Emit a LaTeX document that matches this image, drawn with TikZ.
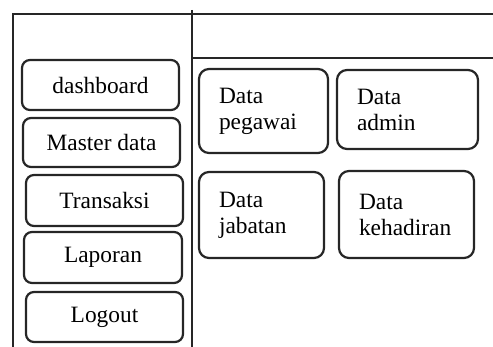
\documentclass[tikz,border=0pt]{standalone}
\usepackage{fontspec}
\setmainfont{Liberation Serif}
\begin{document}
\begin{tikzpicture}[x=0.5pt,y=-0.5pt,
  frame/.style={line width=1pt,draw=black!85},
  menubox/.style={draw=black!85,line width=1.1pt,rounded corners=4pt,
    inner sep=0pt,font=\fontsize{11.7}{13}\selectfont},
  databox/.style={draw=black!85,line width=1.1pt,rounded corners=5pt,
    inner xsep=10pt,inner ysep=0pt,align=left,
    font=\fontsize{11.7}{13}\selectfont}]
\useasboundingbox (0,0) rectangle (493,347);
% window frame
\coordinate (tl) at (13,14);
\coordinate (tr) at (493,14);
\coordinate (bl) at (13,347);
\coordinate (dtop) at (192,10);
\coordinate (dbot) at (192,347);
\coordinate (hl) at (192,58);
\coordinate (hr) at (493,58);
\draw[frame] (bl) -- (tl) -- (tr);
\draw[frame] (dtop) -- (dbot);
\draw[frame] (hl) -- (hr);
% side menu
\node[menubox,minimum width=78.5pt,minimum height=25pt] (dash) at (100.5,85) {dashboard};
\node[menubox,minimum width=78.5pt,minimum height=24.5pt] (master) at (101.5,142.5) {Master data};
\node[menubox,minimum width=78.5pt,minimum height=25.5pt] (trans) at (104.5,200.5) {Transaksi};
\node[menubox,minimum width=79pt,minimum height=25.5pt] (lap) at (103,257.5) {Laporan};
\node[menubox,minimum width=78.5pt,minimum height=25pt] (logout) at (104.5,317) {Logout};
% content panels
\node[databox,text width=44.5pt,minimum height=42pt] (pegawai) at (263.5,111) {Data\\pegawai};
\node[databox,text width=50.5pt,minimum height=39.5pt] (admin) at (407.5,109.5) {Data\\admin};
\node[databox,text width=42.5pt,minimum height=43pt] (jabatan) at (261.5,215) {Data\\jabatan};
\node[databox,text width=47.5pt,minimum height=43.5pt] (kehadiran) at (406.5,214.5) {Data\\kehadiran};
\end{tikzpicture}
\end{document}
